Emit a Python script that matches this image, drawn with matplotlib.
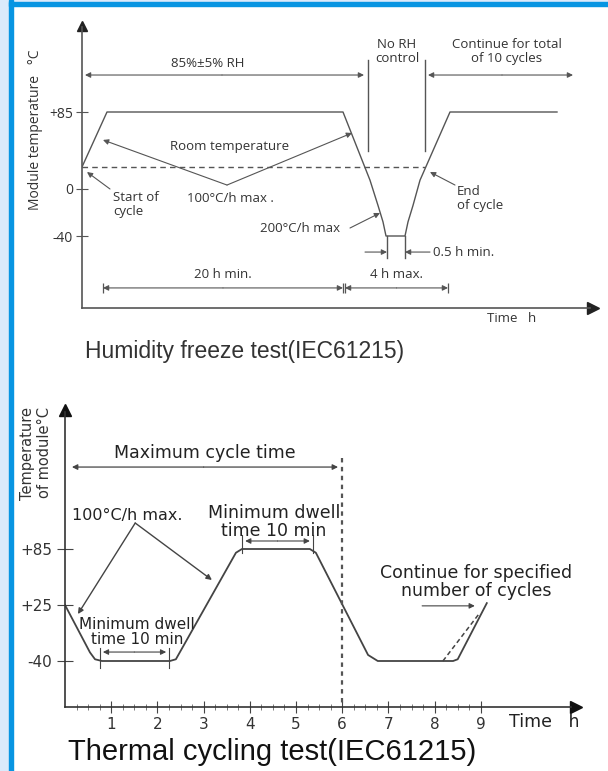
import numpy as np
import matplotlib
matplotlib.use("Agg")
import matplotlib.pyplot as plt
from matplotlib.patches import Rectangle

# ---- humidity freeze profile (schematic time units, degC)
hf_time = [0, 2.5, 26.1, 28.8, 29.6, 30.1, 30.4, 32.3, 32.6, 33.1, 33.8, 36.8, 47.5]
hf_temp = [25, 85, 85, 10, -14, -28, -40, -40, -28, -14, 10, 85, 85]
hf_room = 25
hf_ticks = [85, 0, -40]
hf_ticklabels = ['+85', '0', '-40']

# ---- thermal cycling profile (hours, degC)
tc_time = [0, 0.54, 0.65, 0.80, 2.27, 2.40, 3.70, 3.83, 5.30, 5.43, 6.56, 6.77, 8.40, 8.50, 9.13]
tc_temp = [25, -30, -38, -40, -40, -38, 81, 85, 85, 81, -33, -40, -40, -38, 27]
tc_alt_time = [8.18, 8.98]
tc_alt_temp = [-40, 16]
tc_ticks = [85, 25, -40]
tc_ticklabels = ['+85', '+25', '-40']
tc_hours = [1, 2, 3, 4, 5, 6, 7, 8, 9]
tc_max_cycle = 6

# schematic (non linear) temperature scales: knots of temperature vs. drawing position
hf_knot_T = np.array([-1000, -101, -40, 0, 25, 85, 185, 1000])
hf_knot_s = -np.array([1369, 308, 236, 189, 167, 112, 20, -730])
tc_knot_T = np.array([-1000, -93, -40, 25, 85, 245, 1000])
tc_knot_s = -np.array([1494, 707, 661, 605, 549, 400, -303])

W, H = 608, 771
fig = plt.figure(figsize=(W / 100, H / 100), dpi=100)
fig.patch.set_facecolor('white')

# frame
fig.patches.append(Rectangle((0, 0), 9 / W, 1, transform=fig.transFigure, color='#dbeafb', zorder=0))
fig.patches.append(Rectangle((0, 1 - 2 / H), 1, 2 / H, transform=fig.transFigure, color='#dbeafb', zorder=0))
fig.patches.append(Rectangle((9 / W, 0), 4 / W, 1, transform=fig.transFigure, color='#0895e2', zorder=1))
fig.patches.append(Rectangle((9 / W, 1 - 6 / H), 1, 4 / H, transform=fig.transFigure, color='#0895e2', zorder=1))


def make_axes(left, top, right, bottom):
    return fig.add_axes([left / W, 1 - bottom / H, (right - left) / W, (bottom - top) / H])


def scale_funcs(kT, ks):
    return (lambda T: np.interp(T, kT, ks), lambda s: np.interp(s, ks, kT))


def arrow(ax, start, end, style='-|>', color='#444', lw=0.8, ms=8):
    ax.annotate('', xy=end, xytext=start,
                arrowprops=dict(arrowstyle=style, color=color, lw=lw, mutation_scale=ms,
                                shrinkA=0, shrinkB=0))


# ================= Humidity freeze =================
ax = make_axes(82, 20, 602, 308)
ax.set_yscale('function', functions=scale_funcs(hf_knot_T, hf_knot_s))
ax.set_xlim(0, 52)
ax.set_ylim(-101, 185)
ax.patch.set_alpha(0)
for s in ['top', 'right']:
    ax.spines[s].set_visible(False)
for s in ['left', 'bottom']:
    ax.spines[s].set_color('#555')
    ax.spines[s].set_linewidth(1.2)
ax.spines['bottom'].set_bounds(0, 50.8)
ax.spines['left'].set_bounds(-101, 177)
ax.plot(51.1, -101, '>', color='#222', ms=8, clip_on=False)
ax.plot(0, 178, '^', color='#222', ms=7, clip_on=False)
ax.set_xticks([])
ax.set_yticks(hf_ticks)
ax.set_yticklabels(hf_ticklabels, family='Open Sans', fontsize=10, color='#333')
ax.tick_params(axis='y', direction='inout', length=9, width=0.8, color='#555', pad=2)

c = '#555'
f_top = dict(family='Open Sans', fontsize=9.5, color='#333')
ax.plot(hf_time, hf_temp, color=c, lw=1.0)
ax.plot([0, 34.3], [hf_room, hf_room], color='#555', lw=1.0, ls=(0, (4, 3)))
ax.plot([28.6, 28.6], [141, 43], color=c, lw=1.0)
ax.plot([34.3, 34.3], [141, 43], color=c, lw=1.0)

arrow(ax, (14.0, 125.2), (0.3, 125.2), color=c)
arrow(ax, (14.0, 125.2), (28.2, 125.2), color=c)
ax.text(12.6, 138, '85%±5% RH', ha='center', va='center', **f_top)
arrow(ax, (42, 125.2), (34.6, 125.2), color=c)
arrow(ax, (42, 125.2), (49.1, 125.2), color=c)
ax.text(42.5, 151, 'Continue for total\nof 10 cycles', ha='center', va='center', linespacing=1.1, **f_top)
ax.text(31.5, 151, 'No RH\ncontrol', ha='center', va='center', linespacing=1.1, **f_top)

ax.text(14.8, 47, 'Room temperature', ha='center', va='center', **f_top)
arrow(ax, (14.5, 4.5), (2.1, 54.5), color=c)
arrow(ax, (14.5, 4.5), (27.0, 62.1), color=c)
ax.text(10.5, -7.7, '100°C/h max .', ha='left', va='center', **f_top)
ax.text(3.1, -12.8, 'Start of\ncycle', ha='left', va='center', linespacing=1.1, **f_top)
arrow(ax, (2.8, 0), (0.5, 19.3), color=c)
ax.text(37.5, -7.7, 'End\nof cycle', ha='left', va='center', linespacing=1.1, **f_top)
arrow(ax, (37.3, 4.5), (34.8, 19.3), color=c)
ax.text(17.8, -33.2, '200°C/h max', ha='left', va='center', **f_top)
arrow(ax, (26.8, -33.2), (29.8, -20.4), color=c)

ax.plot([30.5, 30.5], [-40, -58.6], color=c, lw=1.0)
ax.plot([32.3, 32.3], [-40, -58.6], color=c, lw=1.0)
arrow(ax, (28.3, -53.6), (30.5, -53.6), color=c)
arrow(ax, (34.8, -53.6), (32.3, -53.6), color=c)
ax.text(35.1, -53.6, '0.5 h min.', ha='left', va='center', **f_top)

for a, b, label in [(2.1, 26.1, '20 h min.'), (26.3, 36.6, '4 h max.')]:
    m = (a + b) / 2
    arrow(ax, (m, -84), (a, -84), color=c)
    arrow(ax, (m, -84), (b, -84), color=c)
    ax.plot([a, b], [-84, -84], '|', color=c, ms=7, mew=0.9)
    ax.text(m, -73, label, ha='center', va='center', **f_top)

ax.text(40.5, -0.035, 'Time   h', transform=ax.get_xaxis_transform(), ha='left', va='center', **f_top)

fig.text(36 / W, 1 - 130 / H, 'Module temperature   °C', rotation=90, ha='center', va='center',
         family='Open Sans', fontsize=10, color='#333')
fig.text(85 / W, 1 - 352 / H, 'Humidity freeze test(IEC61215)', ha='left', va='center',
         family='Liberation Sans', fontsize=16.5, color='#333')

# ================= Thermal cycling =================
bx = make_axes(65, 400, 600, 707)
bx.set_yscale('function', functions=scale_funcs(tc_knot_T, tc_knot_s))
bx.set_xlim(0, 535 / 46.2)
bx.set_ylim(-93, 245)
bx.patch.set_alpha(0)
for s in ['top', 'right']:
    bx.spines[s].set_visible(False)
for s in ['left', 'bottom']:
    bx.spines[s].set_color('#333')
    bx.spines[s].set_linewidth(1.2)
bx.spines['bottom'].set_bounds(0, 10.95)
bx.spines['left'].set_bounds(-93, 232)
bx.plot(11.05, -93, '>', color='#111', ms=9, clip_on=False)
bx.plot(0, 234, '^', color='#111', ms=8, clip_on=False)
bx.set_xticks(tc_hours)
bx.set_xticks(np.arange(0.25, 9.01, 0.25), minor=True)
bx.set_xticklabels([str(h) for h in tc_hours], family='DejaVu Sans', fontsize=11, color='#333')
bx.tick_params(axis='x', which='major', direction='inout', length=8, width=0.8, color='#444', pad=3)
bx.tick_params(axis='x', which='minor', direction='inout', length=4, width=0.6, color='#666')
bx.set_yticks(tc_ticks)
bx.set_yticks([], minor=True)
bx.set_yticklabels(tc_ticklabels, family='DejaVu Sans', fontsize=11, color='#333')
bx.tick_params(axis='y', direction='inout', length=12, width=0.8, color='#444', pad=3)

k = '#444'
f_bot = dict(family='DejaVu Sans', fontsize=12.5, color='#222')
bx.plot(tc_time, tc_temp, color=k, lw=1.3)
bx.plot(tc_alt_time, tc_alt_temp, color=k, lw=1.1, ls=(0, (3, 2)))
bx.plot([tc_max_cycle, tc_max_cycle], [183, -93], color='#555', lw=1.6, ls=(0, (2, 2)))

arrow(bx, (3.0, 173), (0.15, 173), color=k, lw=0.9)
arrow(bx, (3.0, 173), (5.91, 173), color=k, lw=0.9)
bx.text(3.03, 188, 'Maximum cycle time', ha='center', va='center', **f_bot)

bx.text(0.15, 121.5, '100°C/h max.', ha='left', va='center',
        family='DejaVu Sans', fontsize=11.5, color='#222')
arrow(bx, (1.52, 112.9), (0.28, 14.5), color=k, lw=1.0)
arrow(bx, (1.52, 112.9), (3.18, 51.8), color=k, lw=1.0)

bx.text(4.52, 114.5, 'Minimum dwell\ntime 10 min', ha='center', va='center', linespacing=1.0, **f_bot)
arrow(bx, (4.6, 93.6), (3.9, 93.6), color=k, lw=0.8)
arrow(bx, (4.6, 93.6), (5.3, 93.6), color=k, lw=0.8)
bx.plot([3.83, 3.83], [100, 81], color=k, lw=0.8)
bx.plot([5.37, 5.37], [100, 81], color=k, lw=0.8)

bx.text(1.56, -5.8, 'Minimum dwell\ntime 10 min', ha='center', va='center', linespacing=1.0,
        family='DejaVu Sans', fontsize=11, color='#222')
arrow(bx, (1.5, -29.6), (0.82, -29.6), color=k, lw=0.8)
arrow(bx, (1.5, -29.6), (2.19, -29.6), color=k, lw=0.8)
bx.plot([0.76, 0.76], [-25, -48], color=k, lw=0.8)
bx.plot([2.25, 2.25], [-25, -48], color=k, lw=0.8)

bx.text(8.9, 50, 'Continue for specified\nnumber of cycles', ha='center', va='center', linespacing=1.0, **f_bot)
arrow(bx, (7.73, 24), (8.87, 24), color=k, lw=0.8)

bx.text(9.6, -0.05, 'Time   h', transform=bx.get_xaxis_transform(), ha='left', va='center',
        family='DejaVu Sans', fontsize=12.5, color='#222')

fig.text(36 / W, 1 - 453 / H, 'Temperature\nof module°C', rotation=90, ha='center', va='center',
         family='DejaVu Sans', fontsize=10.5, color='#333', linespacing=1.1)
fig.text(68 / W, 1 - 752 / H, 'Thermal cycling test(IEC61215)', ha='left', va='center',
         family='Liberation Sans', fontsize=21, color='#111')

fig.savefig('out.png', dpi=100)
